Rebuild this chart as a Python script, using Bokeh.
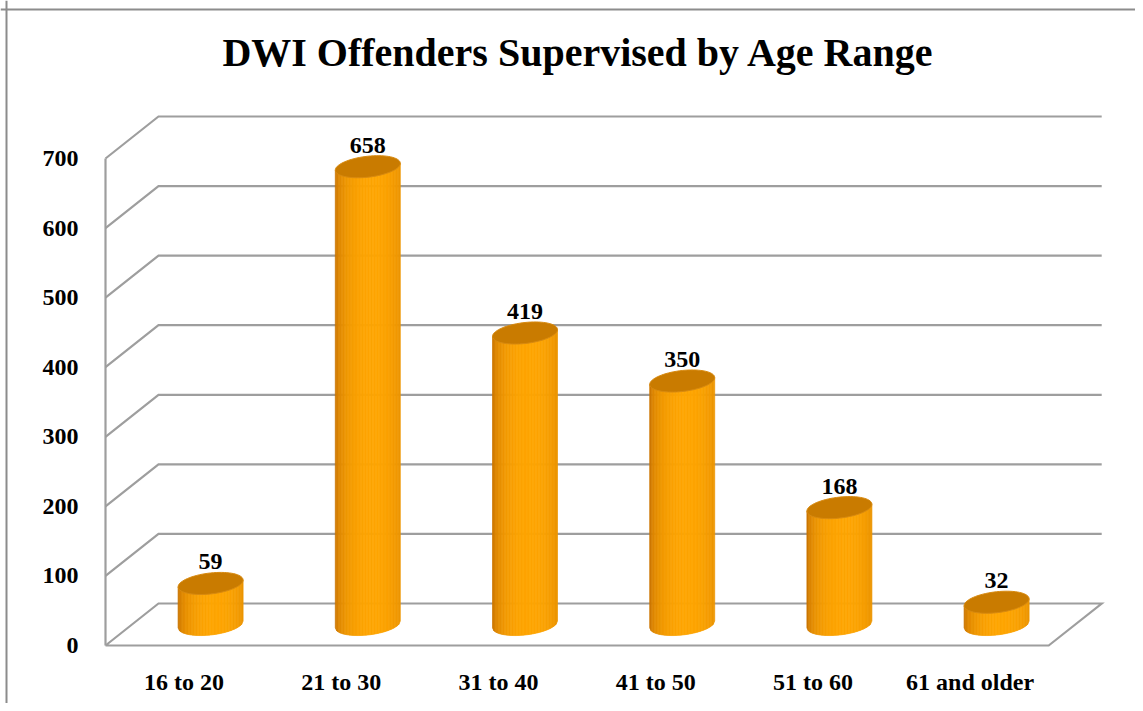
import math
from bokeh.plotting import figure
from bokeh.models import Range1d, Label, Span
from bokeh.core.properties import value
from bokeh.embed import file_html
from bokeh.resources import INLINE

# ---------------- data ----------------
categories = ["16 to 20", "21 to 30", "31 to 40", "41 to 50", "51 to 60", "61 and older"]
offenders = [59, 658, 419, 350, 168, 32]
y_ticks = [0, 100, 200, 300, 400, 500, 600, 700]
y_tick_labels = ["0", "100", "200", "300", "400", "500", "600", "700"]
title_text = "DWI Offenders Supervised by Age Range"

# ---------------- layout ----------------
W, H = 1135, 703
PX_CAT = 157.2      # pixels per category
PX_VAL = 0.6957     # pixels per value unit
ORIGIN_X = 105      # px of front-left edge
ORIGIN_Y = 645      # px (from top) of front zero line
DEPTH_X_PX, DEPTH_Y_PX = 53, 42
RX_PX, RY_PX = 32.5, 10.5
SHEAR = math.tan(math.radians(6))
FONT = "Liberation Serif"
GRID_COLOR = "#9E9E9E"

x0 = -0.5 - ORIGIN_X / PX_CAT
y0 = -(H - ORIGIN_Y) / PX_VAL
DX = DEPTH_X_PX / PX_CAT
DY = DEPTH_Y_PX / PX_VAL
n = len(categories)
left, right = -0.5, n - 0.5

p = figure(width=W, height=H, output_backend="svg", toolbar_location=None,
           x_range=Range1d(x0, x0 + W / PX_CAT), y_range=Range1d(y0, y0 + H / PX_VAL),
           x_axis_location=None, y_axis_location=None, min_border=0,
           background_fill_color="white", border_fill_color="white")
p.outline_line_color = None
p.grid.grid_line_color = None

# outer border (top and left)
p.add_layout(Span(location=y0 + H / PX_VAL - 9.0 / PX_VAL, dimension="width",
                  line_color="#8C8C8C", line_width=2))
p.add_layout(Span(location=x0 + 6.0 / PX_CAT, dimension="height",
                  line_color="#8C8C8C", line_width=2))

# ---------------- 3D frame ----------------
gx, gy = [], []
for v in y_ticks:
    if v == 0:
        gx.append([left, left + DX, right + DX, right, left])
        gy.append([0, DY, DY, 0, 0])
    else:
        gx.append([left, left + DX, right + DX])
        gy.append([v, v + DY, v + DY])
gx.append([left, left])
gy.append([0, y_ticks[-1]])
p.multi_line(gx, gy, line_color=GRID_COLOR, line_width=2.2, line_join="miter")

# ---------------- cylinders ----------------
EDGE = (185, 100, 0)
PEAK = (255, 166, 0)

def shade(u):
    f = math.sqrt(max(0.0, 1 - ((u - 0.15) / 1.15) ** 2))
    f = f ** 0.8
    c = [EDGE[j] + (PEAK[j] - EDGE[j]) * f for j in range(3)]
    return "#%02x%02x%02x" % tuple(int(x) for x in c)

N = 44
sx, sy, sc = [], [], []
tx, ty = [], []
for i, v in enumerate(offenders):
    cx = i + DX / 2
    base = DY / 2
    top = base + v
    for k in range(N):
        ua = -1 + 2 * k / N
        ub = -1 + 2 * (k + 1) / N
        xa, xb = ua * RX_PX, ub * RX_PX
        ba = base + (xa * SHEAR - RY_PX * math.sqrt(max(0, 1 - ua * ua))) / PX_VAL
        bb = base + (xb * SHEAR - RY_PX * math.sqrt(max(0, 1 - ub * ub))) / PX_VAL
        ta = top + xa * SHEAR / PX_VAL
        tb = top + xb * SHEAR / PX_VAL
        sx.append([cx + xa / PX_CAT, cx + xb / PX_CAT, cx + xb / PX_CAT, cx + xa / PX_CAT])
        sy.append([ba, bb, tb, ta])
        sc.append(shade((ua + ub) / 2))
    ex, ey = [], []
    for k in range(73):
        t = 2 * math.pi * k / 72
        xo = RX_PX * math.cos(t)
        yo = RY_PX * math.sin(t) + xo * SHEAR
        ex.append(cx + xo / PX_CAT)
        ey.append(top + yo / PX_VAL)
    tx.append(ex)
    ty.append(ey)

p.patches(sx, sy, fill_color=sc, line_color=sc, line_width=0.7)
p.patches(tx, ty, fill_color="#C97B00", line_color="#D88A10", line_width=1.0)

# ---------------- labels ----------------
p.text(x=[i + DX / 2 for i in range(n)],
       y=[DY / 2 + v + (RY_PX + 11) / PX_VAL for v in offenders],
       text=[str(v) for v in offenders],
       text_font=value(FONT), text_font_style="bold", text_font_size="24px",
       text_align="center", text_baseline="middle", text_color="black")

p.text(x=[left - 27 / PX_CAT] * len(y_ticks), y=y_ticks, text=y_tick_labels,
       text_font=value(FONT), text_font_style="bold", text_font_size="24px",
       text_align="right", text_baseline="middle", text_color="black")

p.text(x=list(range(n)), y=[-36 / PX_VAL] * n, text=categories,
       text_font=value(FONT), text_font_style="bold", text_font_size="24px",
       text_align="center", text_baseline="middle", text_color="black")

p.add_layout(Label(x=578, y=H - 52, x_units="screen", y_units="screen",
                   text=title_text, text_font=FONT, text_font_style="bold",
                   text_font_size="40px", text_align="center",
                   text_baseline="middle", text_color="black"))

open("out.html", "w").write(file_html(p, INLINE))
